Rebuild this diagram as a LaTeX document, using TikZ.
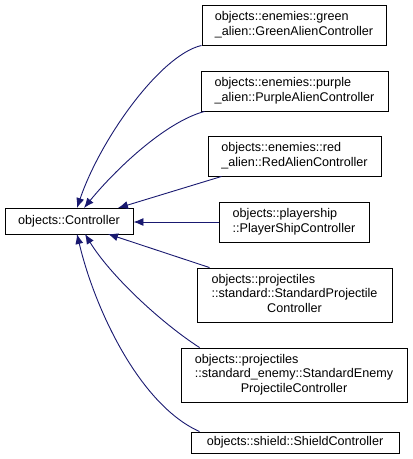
\documentclass[tikz,border=0pt]{standalone}
\usepackage{fontspec}
\setmainfont{Liberation Sans}
\usetikzlibrary{arrows.meta}
\definecolor{edgeblue}{RGB}{25,25,112}
\begin{document}
\begin{tikzpicture}[x=1pt,y=-1pt,
  cls/.style={draw=black,line width=0.9pt,fill=white,inner sep=0pt,
    font=\fontsize{12.6}{14.5}\selectfont},
  inh/.style={draw=edgeblue,line width=0.9pt,-{Latex[length=10pt,width=8pt]}}]
\useasboundingbox (0,0) rectangle (413,459);
\newcommand{\lines}[1]{\begin{tabular}{@{}l@{}}#1\end{tabular}}
\node[cls,minimum width=128,minimum height=26] (ctrl) at (69,221) {objects::Controller};
\node[cls,minimum width=184,minimum height=40] (green) at (294,25)
  {\lines{objects::enemies::green\\\_alien::GreenAlienController}};
\node[cls,minimum width=187,minimum height=40] (purple) at (294.5,91)
  {\lines{objects::enemies::purple\\\_alien::PurpleAlienController}};
\node[cls,minimum width=173,minimum height=40] (red) at (294.5,156)
  {\lines{objects::enemies::red\\\_alien::RedAlienController}};
\node[cls,minimum width=150,minimum height=40] (player) at (294,222)
  {\lines{objects::playership\\::PlayerShipController}};
\node[cls,minimum width=195,minimum height=54] (stdproj) at (294.5,295)
  {\lines{objects::projectiles\\::standard::StandardProjectile\\\multicolumn{1}{@{}c@{}}{Controller}}};
\node[cls,minimum width=226,minimum height=54] (stdenemy) at (294,375)
  {\lines{objects::projectiles\\::standard\_enemy::StandardEnemy\\\multicolumn{1}{@{}c@{}}{ProjectileController}}};
\node[cls,minimum width=208,minimum height=21] (shield) at (295,442.5)
  {objects::shield::ShieldController};
\coordinate (cG) at (77,208);
\coordinate (cP) at (84,208);
\coordinate (cR) at (118,208);
\coordinate (cS) at (108,234);
\coordinate (cE) at (85,234);
\coordinate (cH) at (77,234);
\draw[inh] (green.south west) .. controls (160,55) and (100,140) .. (cG);
\draw[inh] ([xshift=4]purple.south west) .. controls (165,122) and (115,170) .. (cP);
\draw[inh] ([xshift=14]red.south west) -- (cR);
\draw[inh] (player.west) -- (player.west -| ctrl.east);
\draw[inh] ([xshift=13]stdproj.north west) -- (cS);
\draw[inh] ([xshift=19]stdenemy.north west) .. controls (160,322) and (110,275) .. (cE);
\draw[inh] ([xshift=9]shield.north west) .. controls (140,405) and (95,310) .. (cH);
\end{tikzpicture}
\end{document}
